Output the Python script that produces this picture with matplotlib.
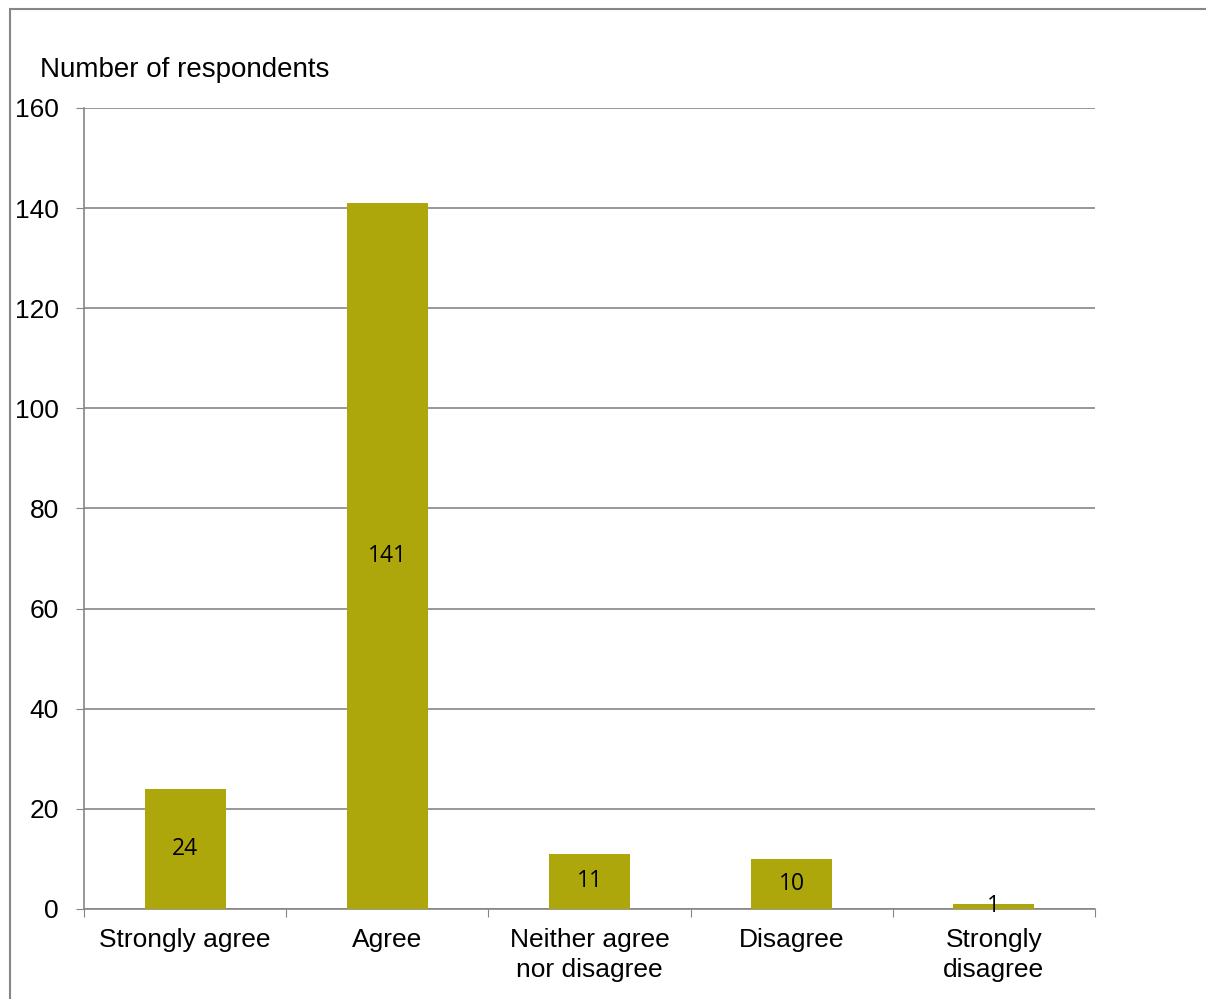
import matplotlib.pyplot as plt
from matplotlib.patches import Rectangle

# data
categories = ['Strongly agree', 'Agree', 'Neither agree\nnor disagree', 'Disagree', 'Strongly\ndisagree']
counts = [24, 141, 11, 10, 1]
yticks = [0, 20, 40, 60, 80, 100, 120, 140, 160]

barColor = '#AEA70C'
axisColor = '#868686'

plt.rcParams['font.family'] = ['Liberation Sans', 'DejaVu Sans']

fig = plt.figure(figsize=(12.06, 9.99), dpi=100)
ax = fig.add_axes([84/1206, 1-909/999, (1095-84)/1206, (909-108)/999])

x = list(range(len(categories)))
bars = ax.bar(x, counts, width=0.4, color=barColor, zorder=3)

# labels in bar centres
for xi, v in zip(x, counts):
    ax.text(xi, v/2, str(v), ha='center', va='center', fontsize=16.5,
            family=['Open Sans', 'DejaVu Sans'], zorder=4)

ax.set_xlim(-0.5, len(categories)-0.5)
ax.set_ylim(0, 160)
ax.set_yticks(yticks)
ax.set_xticks([i + 0.5 for i in range(-1, len(categories))], minor=False)
ax.set_xticklabels([''] * (len(categories)+1))
ax.set_xticks(x, minor=True)
ax.set_xticklabels(categories, minor=True, fontsize=19, linespacing=1.3)
ax.tick_params(axis='x', which='minor', length=0, pad=14)
ax.tick_params(axis='x', which='major', length=6, color=axisColor, direction='out')
ax.tick_params(axis='y', length=6, color=axisColor, direction='out', labelsize=19, pad=12)

ax.yaxis.grid(True, color=axisColor, linewidth=1.2, zorder=0)
for s in ['top', 'right']:
    ax.spines[s].set_visible(False)
for s in ['left', 'bottom']:
    ax.spines[s].set_color(axisColor)
    ax.spines[s].set_linewidth(1.2)

fig.text(40/1206, 1-70/999, 'Number of respondents', ha='left', va='center', fontsize=20)

# outer frame
fig.add_artist(Rectangle((10/1206, -0.05), 1.2, 1.05 - 9/999, transform=fig.transFigure,
                         fill=False, edgecolor=axisColor, linewidth=1.5))

plt.savefig('out.png', dpi=100)
